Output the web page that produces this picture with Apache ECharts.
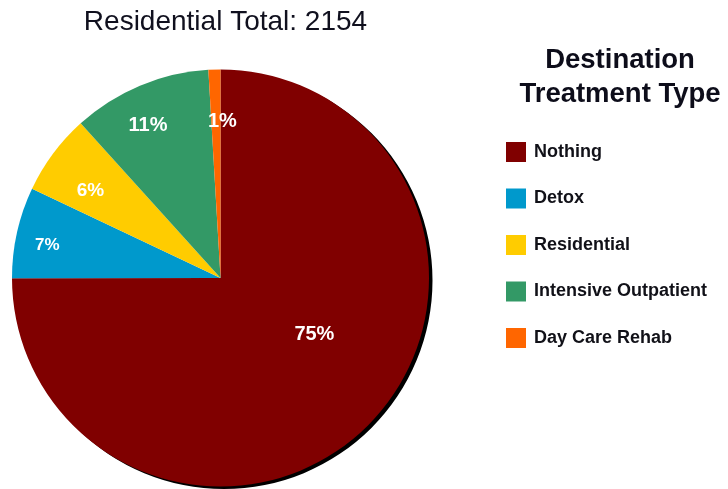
<!DOCTYPE html>
<html><head><meta charset="utf-8">
<script src="https://cdn.jsdelivr.net/npm/echarts@6/dist/echarts.min.js"></script>
<style>html,body{margin:0;padding:0;background:#fff}#c{width:728px;height:489px}</style>
</head><body><div id="c"></div>
<script>
// ---- data ----
const categories = ['Nothing', 'Detox', 'Residential', 'Intensive Outpatient', 'Day Care Rehab'];
const counts = [1615, 152, 135, 232, 20];
const chartTitle = 'Residential Total: 2154';
const legendTitle = 'Destination\nTreatment Type';

// ---- styles ----
const colors = ['#800000', '#0099CC', '#FFCC00', '#339966', '#FF6600'];
const labelShift = [[18, -19], [-68.5, -9], [-44, -23], [-31, -54], [5, -49]];
const labelSize = [20, 17, 19, 20, 20];
const FONT = '"Liberation Sans", Arial, sans-serif';

function itemLabel(i) {
  const dx = labelShift[i][0], dy = labelShift[i][1];
  const up = dy < 0;
  return {
    padding: [0, dx < 0 ? -2 * dx : 0, 0, dx > 0 ? 2 * dx : 0],
    formatter: p => {
      const v = '{v|' + Math.round(p.percent) + '%}';
      return up ? v + '\n{s| }' : '{s| }\n' + v;
    },
    rich: {
      v: {color: '#ffffff', fontWeight: 'bold', fontFamily: FONT, fontSize: labelSize[i], lineHeight: labelSize[i] + 2},
      s: {fontSize: 1, lineHeight: 2 * Math.abs(dy)}
    }
  };
}

const chart = echarts.init(document.getElementById('c'), null, {renderer: 'canvas'});
chart.setOption({
  animation: false,
  backgroundColor: '#ffffff',
  graphic: [
    {type: 'text', x: 225.5, y: 22.5, silent: true,
     style: {text: chartTitle, align: 'center', verticalAlign: 'middle',
             font: 'normal 28px ' + FONT, fill: '#10101e'}},
    {type: 'text', x: 620, y: 43, silent: true,
     style: {text: legendTitle, align: 'center', verticalAlign: 'top', lineHeight: 34,
             font: 'bold 27.5px ' + FONT, fill: '#0d0d1a'}}
  ],
  legend: {
    orient: 'vertical', left: 506, top: 142, padding: 0,
    itemWidth: 20, itemHeight: 20, itemGap: 26.5, icon: 'rect',
    selectedMode: false,
    textStyle: {fontSize: 18, fontWeight: 'bold', color: '#111118', fontFamily: FONT, padding: [0, 0, 0, 3]},
    data: categories
  },
  series: [{
    type: 'pie',
    center: [220.5, 278],
    radius: [0, 208.5],
    startAngle: 90,
    clockwise: true,
    avoidLabelOverlap: false,
    emphasis: {disabled: true},
    labelLine: {show: false},
    itemStyle: {borderWidth: 0},
    label: {show: true, position: 'inside', color: '#ffffff', fontWeight: 'bold', fontFamily: FONT},
    data: categories.map((n, i) => ({
      name: n,
      value: counts[i],
      itemStyle: Object.assign({color: colors[i]},
        i === 0 ? {shadowColor: '#000000', shadowOffsetX: 3.5, shadowOffsetY: 2.5, shadowBlur: 0} : {}),
      label: itemLabel(i)
    }))
  }]
});
</script>
</body></html>
